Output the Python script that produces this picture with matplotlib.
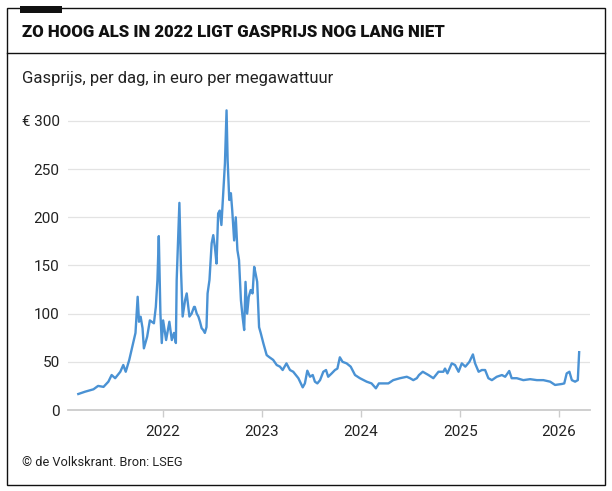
import matplotlib
matplotlib.use("Agg")
import matplotlib.pyplot as plt
from matplotlib.patches import Rectangle
from matplotlib.lines import Line2D
import pandas as pd

dates = [
    "2021-02-22", "2021-03-19", "2021-04-19", "2021-05-06", "2021-05-26", "2021-06-13",
    "2021-06-25", "2021-07-08", "2021-07-27", "2021-08-07", "2021-08-16", "2021-08-29",
    "2021-09-12", "2021-09-21", "2021-09-29", "2021-10-04", "2021-10-10", "2021-10-17",
    "2021-10-22", "2021-11-03", "2021-11-13", "2021-11-28", "2021-12-05", "2021-12-11",
    "2021-12-16", "2021-12-22", "2021-12-27", "2022-01-01", "2022-01-12", "2022-01-24",
    "2022-02-02", "2022-02-10", "2022-02-17", "2022-02-20", "2022-03-02", "2022-03-08",
    "2022-03-14", "2022-03-23", "2022-03-29", "2022-04-08", "2022-04-16", "2022-04-25",
    "2022-04-28", "2022-05-05", "2022-05-11", "2022-05-17", "2022-05-23", "2022-05-29",
    "2022-06-04", "2022-06-10", "2022-06-14", "2022-06-21", "2022-06-29", "2022-07-05",
    "2022-07-11", "2022-07-17", "2022-07-23", "2022-07-29", "2022-08-04", "2022-08-10",
    "2022-08-17", "2022-08-23", "2022-08-27", "2022-09-02", "2022-09-08", "2022-09-13",
    "2022-09-20", "2022-09-26", "2022-10-02", "2022-10-08", "2022-10-15", "2022-10-21",
    "2022-10-27", "2022-11-01", "2022-11-07", "2022-11-13", "2022-11-20", "2022-11-27",
    "2022-12-03", "2022-12-08", "2022-12-14", "2022-12-21", "2022-12-27", "2023-01-06",
    "2023-01-18", "2023-01-27", "2023-02-11", "2023-02-24", "2023-03-08", "2023-03-18",
    "2023-04-01", "2023-04-14", "2023-04-26", "2023-05-15", "2023-05-31", "2023-06-08",
    "2023-06-17", "2023-06-27", "2023-07-07", "2023-07-15", "2023-07-24", "2023-08-03",
    "2023-08-15", "2023-08-25", "2023-09-02", "2023-09-15", "2023-09-27", "2023-10-06",
    "2023-10-15", "2023-10-25", "2023-11-09", "2023-11-24", "2023-12-10", "2023-12-28",
    "2024-01-22", "2024-02-09", "2024-02-25", "2024-03-07", "2024-04-11", "2024-04-29",
    "2024-05-24", "2024-06-18", "2024-06-30", "2024-07-12", "2024-07-25", "2024-08-02",
    "2024-08-16", "2024-09-06", "2024-09-24", "2024-10-13", "2024-10-31", "2024-11-06",
    "2024-11-15", "2024-12-01", "2024-12-13", "2024-12-26", "2025-01-07", "2025-01-20",
    "2025-02-04", "2025-02-17", "2025-02-25", "2025-03-10", "2025-03-22", "2025-04-03",
    "2025-04-15", "2025-04-28", "2025-05-16", "2025-06-04", "2025-06-16", "2025-07-01",
    "2025-07-10", "2025-07-29", "2025-08-22", "2025-09-16", "2025-10-11", "2025-11-04",
    "2025-11-29", "2025-12-17", "2026-01-11", "2026-01-20", "2026-01-29", "2026-02-08",
    "2026-02-17", "2026-03-01", "2026-03-11", "2026-03-16",
]
prices = [
    16.6, 19, 21.5, 25, 24, 29.4,
    36.3, 33, 39.7, 46.7, 39.7, 52,
    69, 80, 117.5, 91.6, 96.8, 85,
    64, 76, 93, 90, 107, 135,
    180.5, 100, 69.5, 93, 72.6, 91.6,
    72.6, 80, 69.5, 135, 215, 145,
    97, 114, 121, 97, 100, 107,
    107, 100, 97, 91.6, 85, 83,
    80, 86, 121, 135, 173, 181.5,
    169, 152, 204, 207, 192, 221,
    256, 311, 259, 218, 225, 207,
    176, 200, 166, 155.6, 114, 97,
    83, 133, 100, 117.5, 124.5, 121,
    148.6, 141.8, 133, 86, 80, 69,
    57, 55, 52, 46.7, 45, 41.5,
    48.4, 41.5, 39.7, 33, 23.5, 27.6,
    40.8, 34.5, 36.3, 29.4, 27.6, 31,
    39.7, 41.5, 34.5, 38, 41.5, 43,
    54.7, 50, 48.4, 45, 36.3, 33,
    29.4, 27.6, 22.5, 27.6, 27.6, 31,
    33, 34.5, 33, 31, 33, 36.3,
    39.7, 36.3, 33, 39.7, 39.7, 43,
    38, 48.4, 46.7, 39.7, 48.4, 45,
    50, 57.7, 48.4, 39.7, 41.5, 41.5,
    33, 31, 34.5, 36.3, 34.5, 40.5,
    33, 33, 31, 32, 31, 31,
    29.4, 26, 27, 27.6, 38, 39.7,
    31, 29.4, 31, 60,
]
y_ticks = [0, 50, 100, 150, 200, 250, 300]
y_labels = ["0", "50", "100", "150", "200", "250", "€ 300"]
x_years = [2022, 2023, 2024, 2025, 2026]

FONT = ["Roboto", "DejaVu Sans"]
plt.rcParams["font.family"] = FONT

W, H = 612, 491
fig = plt.figure(figsize=(W / 100, H / 100), dpi=100)

def fx(px):
    return px / W

def fy(py):
    return 1 - py / H

# frame
fig.patches.append(Rectangle((fx(7), fy(485)), fx(605) - fx(7), fy(8) - fy(485),
                             transform=fig.transFigure, fill=False, edgecolor="#111111",
                             linewidth=1.0))
fig.lines.append(Line2D([fx(7), fx(605)], [fy(53), fy(53)], transform=fig.transFigure,
                        color="#111111", linewidth=1.0))
fig.patches.append(Rectangle((fx(20), fy(13)), fx(62) - fx(20), fy(6) - fy(13),
                             transform=fig.transFigure, facecolor="#111111",
                             edgecolor="none"))

fig.text(fx(22), fy(32), "ZO HOOG ALS IN 2022 LIGT GASPRIJS NOG LANG NIET",
         fontsize=12.1, fontweight=900, color="#111111", va="center", ha="left")
fig.text(fx(22), fy(78), "Gasprijs, per dag, in euro per megawattuur",
         fontsize=12, color="#222222", va="center", ha="left")
fig.text(fx(22), fy(462), "© de Volkskrant. Bron: LSEG",
         fontsize=9.2, color="#222222", va="center", ha="left")

ax = fig.add_axes([fx(68), fy(410), fx(590) - fx(68), fy(101.7) - fy(410)])
x = pd.to_datetime(dates)
ax.plot(x, prices, color="#4a92d4", linewidth=1.7, solid_joinstyle="round")

ax.set_ylim(0, 320)
ax.set_xlim(pd.Timestamp("2021-01-15"), pd.Timestamp("2026-04-25"))
ax.set_yticks(y_ticks)
ax.set_yticklabels(y_labels)
ax.set_xticks([pd.Timestamp(f"{yr}-01-01") for yr in x_years])
ax.set_xticklabels([str(yr) for yr in x_years])

for t in y_ticks[1:]:
    ax.axhline(t, color="#e3e3e3", linewidth=0.9, zorder=0)

for s in ["top", "right", "left"]:
    ax.spines[s].set_visible(False)
ax.spines["bottom"].set_color("#cccccc")
ax.spines["bottom"].set_linewidth(1.3)

ax.tick_params(axis="y", length=0, pad=6, labelsize=11, labelcolor="#222222")
ax.tick_params(axis="x", length=5, width=1.0, color="#cccccc", pad=6,
               labelsize=11, labelcolor="#222222")

fig.savefig("out.png", dpi=100)
